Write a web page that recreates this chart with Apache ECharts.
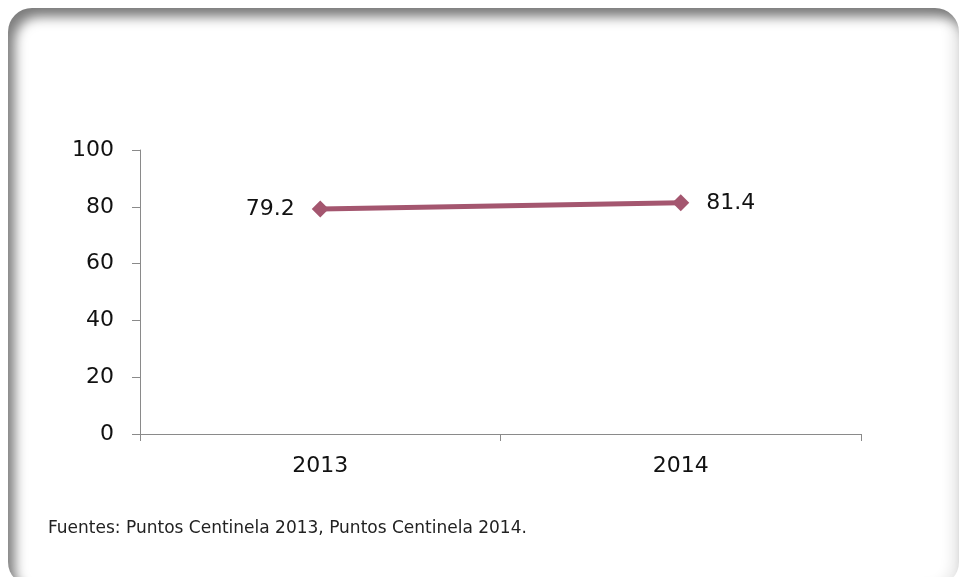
<!DOCTYPE html>
<html>
<head>
<meta charset="utf-8">
<script src="https://cdn.jsdelivr.net/npm/echarts@6/dist/echarts.min.js"></script>
<style>
  html, body { margin: 0; padding: 0; background: #ffffff; overflow: hidden; }
  #frame {
    position: absolute; left: 8px; top: 8px; width: 951px; height: 578px;
    border-radius: 24px; background: #ffffff;
    box-shadow: inset 7px 9px 12px rgba(0,0,0,0.5), inset -8px 0px 12px rgba(0,0,0,0.08);
  }
  #chart { position: absolute; left: 0; top: 0; width: 959px; height: 577px; }
</style>
</head>
<body>
<div id="frame"></div>
<div id="chart"></div>
<script>
// Years and the values measured in each one
const years = ['2013', '2014'];
const values = [79.2, 81.4];
const yTicks = { min: 0, max: 100, interval: 20 };
const sourceNote = 'Fuentes: Puntos Centinela 2013, Puntos Centinela 2014.';

const chart = echarts.init(document.getElementById('chart'), null, { renderer: 'canvas' });
const fontFam = '"DejaVu Sans", sans-serif';
const axisGray = '#8a8a8a';
const lineColor = '#a4566f';

chart.setOption({
  backgroundColor: 'transparent',
  animation: false,
  grid: { left: 140, right: 98, top: 150, bottom: 143 },
  xAxis: {
    type: 'category',
    data: years,
    boundaryGap: true,
    axisLine: { lineStyle: { color: axisGray, width: 1 } },
    axisTick: { show: true, length: 7, lineStyle: { color: axisGray } },
    axisLabel: { color: '#111', fontSize: 22, fontFamily: fontFam, margin: 21 },
    splitLine: { show: false }
  },
  yAxis: {
    type: 'value',
    min: yTicks.min, max: yTicks.max, interval: yTicks.interval,
    axisLine: { show: true, lineStyle: { color: axisGray, width: 1 } },
    axisTick: { show: true, length: 8, lineStyle: { color: axisGray } },
    axisLabel: { color: '#111', fontSize: 22, fontFamily: fontFam, margin: 26 },
    splitLine: { show: false }
  },
  series: [{
    type: 'line',
    data: values.map((v, i) => ({
      value: v,
      label: { position: i === 0 ? 'left' : 'right', distance: 17 }
    })),
    symbol: 'diamond',
    symbolSize: 17,
    lineStyle: { color: lineColor, width: 5 },
    itemStyle: { color: lineColor },
    label: {
      show: true, color: '#111', fontSize: 22, fontFamily: fontFam,
      formatter: p => p.value.toFixed(1)
    }
  }],
  graphic: [{
    type: 'text', left: 48, top: 520,
    style: { text: sourceNote, fill: '#222', font: '17px ' + fontFam }
  }]
});
</script>
</body>
</html>
